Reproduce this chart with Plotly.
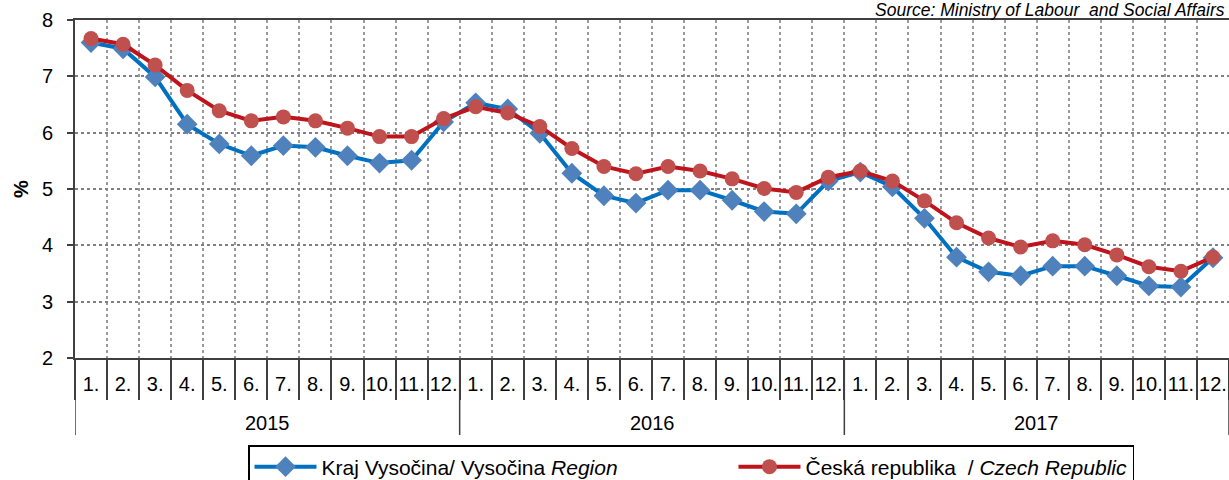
import plotly.graph_objects as go

months = ["1.", "2.", "3.", "4.", "5.", "6.", "7.", "8.", "9.", "10.", "11.", "12."]
years = ["2015", "2016", "2017"]
month_labels = months * 3

vysocina = [7.60, 7.49, 6.99, 6.15, 5.80, 5.59, 5.77, 5.74, 5.59, 5.46, 5.51, 6.19,
            6.53, 6.42, 5.99, 5.28, 4.88, 4.75, 4.98, 4.98, 4.80, 4.60, 4.56, 5.14,
            5.30, 5.04, 4.48, 3.79, 3.53, 3.46, 3.63, 3.63, 3.46, 3.28, 3.26, 3.78]
czech = [7.67, 7.57, 7.20, 6.75, 6.39, 6.21, 6.28, 6.21, 6.08, 5.93, 5.93, 6.25,
         6.46, 6.35, 6.11, 5.72, 5.40, 5.27, 5.40, 5.32, 5.18, 5.01, 4.94, 5.21,
         5.32, 5.14, 4.79, 4.40, 4.13, 3.97, 4.08, 4.01, 3.83, 3.62, 3.54, 3.79]

x = list(range(len(month_labels)))
font_family = "Liberation Sans, Arial, sans-serif"
pad = "\u00a0" * 19

fig = go.Figure()
fig.add_trace(go.Scatter(
    x=x, y=vysocina, mode="lines+markers",
    name="Kraj Vysočina/ Vysočina <i>Region</i>" + pad,
    line=dict(color="#0070C0", width=4),
    marker=dict(symbol="diamond", size=16, color="#4F81BD"),
))
fig.add_trace(go.Scatter(
    x=x, y=czech, mode="lines+markers",
    name="Česká republika  / <i>Czech Republic</i>",
    line=dict(color="#C0141C", width=4),
    marker=dict(symbol="circle", size=15, color="#C0504D"),
))

boundaries = [i - 0.5 for i in range(len(month_labels) + 1)]

fig.update_xaxes(
    range=[-0.5, len(month_labels) - 0.5],
    tickmode="array", tickvals=x, ticktext=month_labels,
    ticks="", showgrid=False, ticklabelstandoff=7,
    tickfont=dict(size=20, color="black", family=font_family),
    showline=True, linecolor="#404040", linewidth=2, mirror=True,
    zeroline=False,
    minor=dict(tickmode="array", tickvals=boundaries, ticks="outside", ticklen=40,
               tickcolor="#404040", tickwidth=1.5, showgrid=True,
               gridcolor="#9a9a9a", griddash="dot", gridwidth=1.5),
)
fig.update_yaxes(
    range=[2, 8], dtick=1, tick0=2,
    ticks="outside", ticklen=6, tickcolor="#404040", tickwidth=2,
    ticklabelstandoff=10,
    tickfont=dict(size=20, color="black", family=font_family),
    showgrid=True, gridcolor="#808080", griddash="dot", gridwidth=2,
    showline=True, linecolor="#404040", linewidth=2, mirror=True,
    zeroline=False,
    title=dict(text="<b>%</b>", font=dict(size=20, color="black", family=font_family), standoff=8),
)

plot_h = 338.0
for b in [-0.5, 11.5, 23.5, 35.5]:
    fig.add_shape(type="line", xref="x", yref="paper", x0=b, x1=b, y0=0, y1=-(435 - 358) / plot_h,
                  line=dict(color="#404040", width=1.5))

for i, yr in enumerate(years):
    fig.add_annotation(x=5.5 + 12 * i, y=-(423 - 358) / plot_h, xref="x", yref="paper",
                       text=yr, showarrow=False, yanchor="middle",
                       font=dict(size=20, color="black", family=font_family))

fig.add_annotation(x=1, y=1 + (20 - 10) / plot_h, xref="paper", yref="paper",
                   text="<i>Source: Ministry of Labour  and Social Affairs</i>",
                   showarrow=False, xanchor="right", yanchor="middle", xshift=-2,
                   font=dict(size=17.5, color="black", family=font_family))

fig.update_layout(
    width=1229, height=480,
    margin=dict(l=75, r=0, t=20, b=122, autoexpand=False),
    plot_bgcolor="white", paper_bgcolor="white",
    font=dict(family=font_family, color="black"),
    legend=dict(orientation="h", x=(248 - 75) / 1154, xanchor="left",
                y=-(445 - 358) / plot_h, yanchor="top",
                bordercolor="black", borderwidth=1.5, itemwidth=62,
                font=dict(size=21, color="black", family=font_family)),
)

fig.write_html("out.html", config={"displayModeBar": False},
               post_script="document.body.style.margin='0';")
